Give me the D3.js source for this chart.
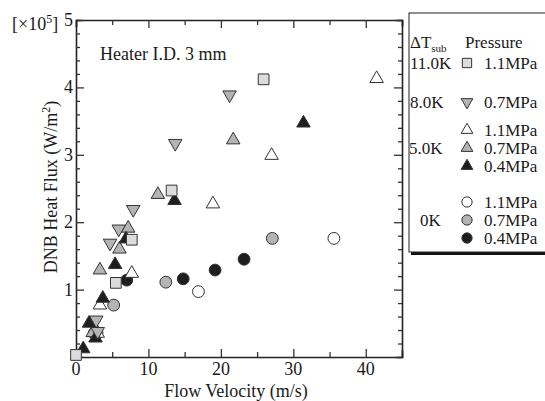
<!DOCTYPE html>
<html><head><meta charset="utf-8">
<script src="https://cdn.jsdelivr.net/npm/d3@7"></script>
<style>body{margin:0;background:#fff}svg{display:block}text{font-family:"Liberation Serif","Times New Roman",serif;fill:#1a1a1a}</style>
</head><body><svg id="c" width="545" height="401"></svg>
<script>
// Data (velocity m/s, heat flux x1e5 W/m2)
const sq11 = [[0,0.03],[5.5,1.10],[7.7,1.74],[13.2,2.47],[25.9,4.12]];
const dn07 = [[2.8,0.55],[3.0,0.38],[4.7,1.69],[5.9,1.90],[7.9,2.19],[13.7,3.17],[21.2,3.89]];
const up11 = [[3.0,0.35],[3.3,0.77],[7.7,1.24],[18.9,2.27],[27.0,2.99],[41.5,4.13]];
const up07 = [[2.3,0.36],[3.3,1.29],[6.0,1.60],[7.2,1.91],[11.3,2.41],[21.7,3.22]];
const up04 = [[1.0,0.12],[1.8,0.50],[2.7,0.28],[3.7,0.87],[5.4,1.37],[6.9,1.75],[13.6,2.32],[31.4,3.47]];
const ci11 = [[2.9,0.36],[16.9,0.97],[35.6,1.76]];
const ci07 = [[2.5,0.35],[5.2,0.77],[12.4,1.11],[27.1,1.76]];
const ci04 = [[7.0,1.14],[14.8,1.16],[19.2,1.29],[23.2,1.45]];
const xTicks = [0,10,20,30,40];
const yTicks = [1,2,3,4,5];

const WHITE="#ffffff", LGRAY="#dcdcdc", GRAY="#b4b4b4", BLACK="#1e1e1e";
const series = [
  {data:ci11, shape:"circle", fill:WHITE},
  {data:ci07, shape:"circle", fill:GRAY},
  {data:ci04, shape:"circle", fill:BLACK},
  {data:up11, shape:"up", fill:WHITE},
  {data:up07, shape:"up", fill:GRAY},
  {data:up04, shape:"up", fill:BLACK},
  {data:dn07, shape:"down", fill:GRAY},
  {data:sq11, shape:"square", fill:LGRAY}
];

const svg = d3.select("#c");
const L=76, R=402, T=20, B=357;
const x = d3.scaleLinear().domain([0,45]).range([L,R]);
const y = d3.scaleLinear().domain([0,5]).range([B,T]);

function tri(up, s){
  const h=s*Math.sqrt(3)/2;
  return up ? `M0,${-h*2/3}L${s/2},${h/3}L${-s/2},${h/3}Z` : `M0,${h*2/3}L${s/2},${-h/3}L${-s/2},${-h/3}Z`;
}
function symPath(shape, k){
  if(shape==="circle") return d3.symbol(d3.symbolCircle, 110*k)();
  if(shape==="square") return d3.symbol(d3.symbolSquare, 115*k)();
  return tri(shape==="up", 13.5*Math.sqrt(k));
}

// axes
const g = svg.append("g");
const axB = d3.axisBottom(x).tickValues(d3.range(0,46,5)).tickSize(-6).tickFormat("");
const axT = d3.axisTop(x).tickValues(d3.range(0,46,5)).tickSize(-6).tickFormat("");
const axL = d3.axisLeft(y).tickValues(d3.range(0,5.01,0.2)).tickSize(-4).tickFormat("");
const axR = d3.axisRight(y).tickValues(d3.range(0,5.01,0.2)).tickSize(-4).tickFormat("");
function styleAx(sel){
  sel.select(".domain").attr("stroke","#222").attr("stroke-width",1.6);
  sel.selectAll(".tick line").attr("stroke","#333").attr("stroke-width",1.3);
}
const gb=g.append("g").attr("transform",`translate(0,${B})`).call(axB); styleAx(gb);
const gt=g.append("g").attr("transform",`translate(0,${T})`).call(axT); styleAx(gt);
const gl=g.append("g").attr("transform",`translate(${L},0)`).call(axL); styleAx(gl);
const gr=g.append("g").attr("transform",`translate(${R},0)`).call(axR); styleAx(gr);
[gb,gt].forEach(s=>s.selectAll(".tick line").attr("y2",(d)=> (d%10===0?-8:-5) * (s===gb?1:-1)));
[gl,gr].forEach(s=>s.selectAll(".tick line").attr("x2",(d)=> (Math.abs(d-Math.round(d))<1e-6?8:4) * (s===gl?1:-1)));
g.selectAll(".domain").attr("stroke-linecap","square");

// tick labels
svg.append("g").selectAll("text").data(xTicks).join("text")
  .attr("x",d=>x(d)).attr("y",B+18).attr("text-anchor","middle").attr("font-size",18).text(d=>d);
svg.append("g").selectAll("text").data(yTicks).join("text")
  .attr("x",L-3).attr("y",d=>y(d)+6).attr("text-anchor","end").attr("font-size",18).text(d=>d);

// axis titles
svg.append("text").attr("x",236).attr("y",397).attr("text-anchor","middle").attr("font-size",18).text("Flow Velocity (m/s)");
const yl = svg.append("text").attr("transform",`translate(57,187) rotate(-90)`).attr("text-anchor","middle").attr("font-size",18);
yl.append("tspan").text("DNB Heat Flux (W/m");
yl.append("tspan").attr("dy",-7).attr("font-size",12).text("2");
yl.append("tspan").attr("dy",7).text(")");
const mul = svg.append("text").attr("x",12).attr("y",30).attr("font-size",18);
mul.append("tspan").text("[×10");
mul.append("tspan").attr("dy",-7).attr("font-size",12).text("5");
mul.append("tspan").attr("dy",7).text("]");

svg.append("text").attr("x",100).attr("y",60).attr("font-size",18).text("Heater I.D. 3 mm");

// points
series.forEach(s=>{
  svg.append("g").selectAll("path").data(s.data).join("path")
    .attr("d",symPath(s.shape,1))
    .attr("transform",d=>`translate(${x(d[0])},${y(d[1])})`)
    .attr("fill",s.fill).attr("stroke","#333").attr("stroke-width",1);
});

// legend
const lg = svg.append("g");
lg.append("rect").attr("x",411).attr("y",16).attr("width",150).attr("height",239).attr("fill","#111");
lg.append("rect").attr("x",409).attr("y",13).attr("width",150).attr("height",239).attr("fill","#fff").attr("stroke","#222").attr("stroke-width",1);
const hd = lg.append("text").attr("x",410).attr("y",48).attr("font-size",17);
hd.append("tspan").text("ΔT");
hd.append("tspan").attr("dy",4).attr("font-size",11).text("sub");
lg.append("text").attr("x",465).attr("y",48).attr("font-size",17).text("Pressure");
const rows = [
  {lab:"11.0K", lx:410, shape:"square", fill:LGRAY, p:"1.1MPa", cy:63},
  {lab:"8.0K", lx:410, shape:"down", fill:GRAY, p:"0.7MPa", cy:102},
  {lab:"", shape:"up", fill:WHITE, p:"1.1MPa", cy:130},
  {lab:"5.0K", lx:409, shape:"up", fill:GRAY, p:"0.7MPa", cy:148},
  {lab:"", shape:"up", fill:BLACK, p:"0.4MPa", cy:166},
  {lab:"", shape:"circle", fill:WHITE, p:"1.1MPa", cy:202},
  {lab:"0K", lx:420, shape:"circle", fill:GRAY, p:"0.7MPa", cy:220},
  {lab:"", shape:"circle", fill:BLACK, p:"0.4MPa", cy:238}
];
rows.forEach(r=>{
  lg.append("path").attr("d",symPath(r.shape,0.75))
    .attr("transform",`translate(467,${r.cy})`).attr("fill",r.fill).attr("stroke","#333");
  lg.append("text").attr("x",484).attr("y",r.cy+6).attr("font-size",17).text(r.p);
  if(r.lab) lg.append("text").attr("x",r.lx).attr("y",r.cy+6).attr("font-size",17).text(r.lab);
});
</script></body></html>
